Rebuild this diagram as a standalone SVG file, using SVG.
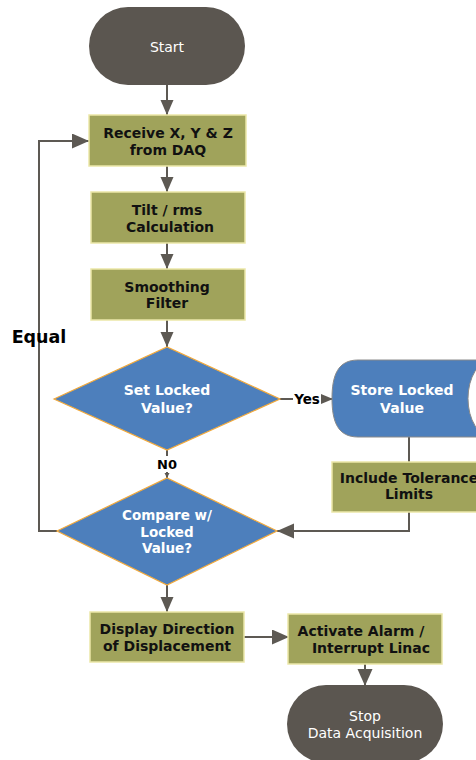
<svg xmlns="http://www.w3.org/2000/svg" width="476" height="760" viewBox="0 0 476 760">
  <style>
    .term { fill: #5b5650; }
    .proc { fill: #a0a35b; stroke: #ebe7a8; stroke-width: 1.5; }
    .dec { fill: #4d7fbc; stroke: #f2a93b; stroke-width: 1.2; }
    .store { fill: #4d7fbc; stroke: #8a8a8a; stroke-width: 1; }
    .wire { fill: none; stroke: #5d5953; stroke-width: 2; }
    text { font-family: "DejaVu Sans", Verdana, sans-serif; text-anchor: middle; }
    .tl { fill: #ffffff; font-size: 14px; }
    .bk { fill: #111111; font-size: 14px; font-weight: bold; }
    .wb { fill: #ffffff; font-size: 14px; font-weight: bold; }
    .lbl { fill: #000000; font-size: 13px; font-weight: bold; }
  </style>
  <defs>
    <marker id="arr" markerUnits="userSpaceOnUse" markerWidth="16" markerHeight="14" refX="15" refY="6.5" orient="auto">
      <path d="M0,0 L15,6.5 L0,13 z" fill="#5d5953"/>
    </marker>
    <marker id="arrBig" markerUnits="userSpaceOnUse" markerWidth="18" markerHeight="16" refX="17" refY="7.5" orient="auto">
      <path d="M0,0 L17,7.5 L0,15 z" fill="#5d5953"/>
    </marker>
    <marker id="arrSm" markerUnits="userSpaceOnUse" markerWidth="13" markerHeight="11" refX="12" refY="5" orient="auto">
      <path d="M0,0 L12,5 L0,10 z" fill="#5d5953"/>
    </marker>
    <marker id="arrTiny" markerUnits="userSpaceOnUse" markerWidth="6" markerHeight="6" refX="5" refY="2.5" orient="auto">
      <path d="M0,0 L5,2.5 L0,5 z" fill="#5d5953"/>
    </marker>
  </defs>

  <rect width="476" height="760" fill="#ffffff"/>

  <!-- connectors -->
  <g id="connectors">
    <path class="wire" d="M167,85 V115" marker-end="url(#arr)"/>
    <path class="wire" d="M167,166 V192" marker-end="url(#arr)"/>
    <path class="wire" d="M167,243 V269" marker-end="url(#arr)"/>
    <path class="wire" d="M167,320 V347" marker-end="url(#arr)"/>
    <path class="wire" d="M280,399 H293"/>
    <path class="wire" d="M321,399 H333" marker-end="url(#arrSm)"/>
    <path class="wire" d="M167,450 V456"/>
    <path class="wire" d="M167,472 V478" marker-end="url(#arrTiny)"/>
    <path class="wire" d="M409,437 V462"/>
    <path class="wire" d="M409,512 V531 H277" marker-end="url(#arrBig)"/>
    <path class="wire" d="M57,531 H39 V141 H89" marker-end="url(#arrBig)"/>
    <path class="wire" d="M167,585 V612" marker-end="url(#arr)"/>
    <path class="wire" d="M244,637 H289" marker-end="url(#arrBig)"/>
    <path class="wire" d="M365,664 V686" marker-end="url(#arrBig)"/>
  </g>

  <!-- edge labels -->
  <g id="labels">
    <text class="lbl" x="39" y="343" style="font-size:17.5px">Equal</text>
    <text class="lbl" x="307" y="404" style="font-size:13.5px">Yes</text>
    <text class="lbl" x="167" y="469">N0</text>
  </g>

  <g id="start">
    <rect class="term" x="89" y="7" width="156" height="78" rx="39" ry="39"/>
    <text class="tl" x="167" y="52">Start</text>
  </g>

  <g id="receive">
    <rect class="proc" x="89" y="115" width="157" height="51"/>
    <text class="bk" x="168" y="138">Receive X, Y &amp; Z</text>
    <text class="bk" x="168" y="155">from DAQ</text>
  </g>

  <g id="tilt">
    <rect class="proc" x="91" y="192" width="154" height="51"/>
    <text class="bk" x="167" y="215">Tilt / rms</text>
    <text class="bk" x="170" y="232">Calculation</text>
  </g>

  <g id="smoothing">
    <rect class="proc" x="91" y="269" width="154" height="51"/>
    <text class="bk" x="167" y="292">Smoothing</text>
    <text class="bk" x="167" y="308">Filter</text>
  </g>

  <g id="set-locked">
    <polygon class="dec" points="54,399 167,347 280,399 167,450"/>
    <text class="wb" x="167" y="395">Set Locked</text>
    <text class="wb" x="167" y="413">Value?</text>
  </g>

  <g id="store-locked">
    <path class="store" d="M358,360 H500 V437 H358 C338,437 332,422 332,398.5 C332,375 338,360 358,360 Z"/>
    <ellipse cx="492" cy="398.5" rx="24" ry="38.5" fill="#ffffff" stroke="#8a8a8a" stroke-width="1"/>
    <text class="wb" x="402" y="395">Store Locked</text>
    <text class="wb" x="402" y="413">Value</text>
  </g>

  <g id="tolerance">
    <rect class="proc" x="332" y="462" width="156" height="50"/>
    <text class="bk" x="409" y="483">Include Tolerance</text>
    <text class="bk" x="409" y="499">Limits</text>
  </g>

  <g id="compare">
    <polygon class="dec" points="57,531 167,478 277,531 167,585"/>
    <text class="wb" x="167" y="520" style="font-size:13.5px">Compare w/</text>
    <text class="wb" x="167" y="537" style="font-size:13.5px">Locked</text>
    <text class="wb" x="167" y="553" style="font-size:13.5px">Value?</text>
  </g>

  <g id="display">
    <rect class="proc" x="90" y="612" width="154" height="50"/>
    <text class="bk" x="167" y="634">Display Direction</text>
    <text class="bk" x="167" y="651">of Displacement</text>
  </g>

  <g id="alarm">
    <rect class="proc" x="288" y="614" width="154" height="50"/>
    <text class="bk" x="361" y="636">Activate Alarm /</text>
    <text class="bk" x="371" y="653">Interrupt Linac</text>
  </g>

  <g id="stop">
    <rect class="term" x="287" y="685" width="156" height="78" rx="39" ry="39"/>
    <text class="tl" x="365" y="721">Stop</text>
    <text class="tl" x="365" y="738">Data Acquisition</text>
  </g>
</svg>
